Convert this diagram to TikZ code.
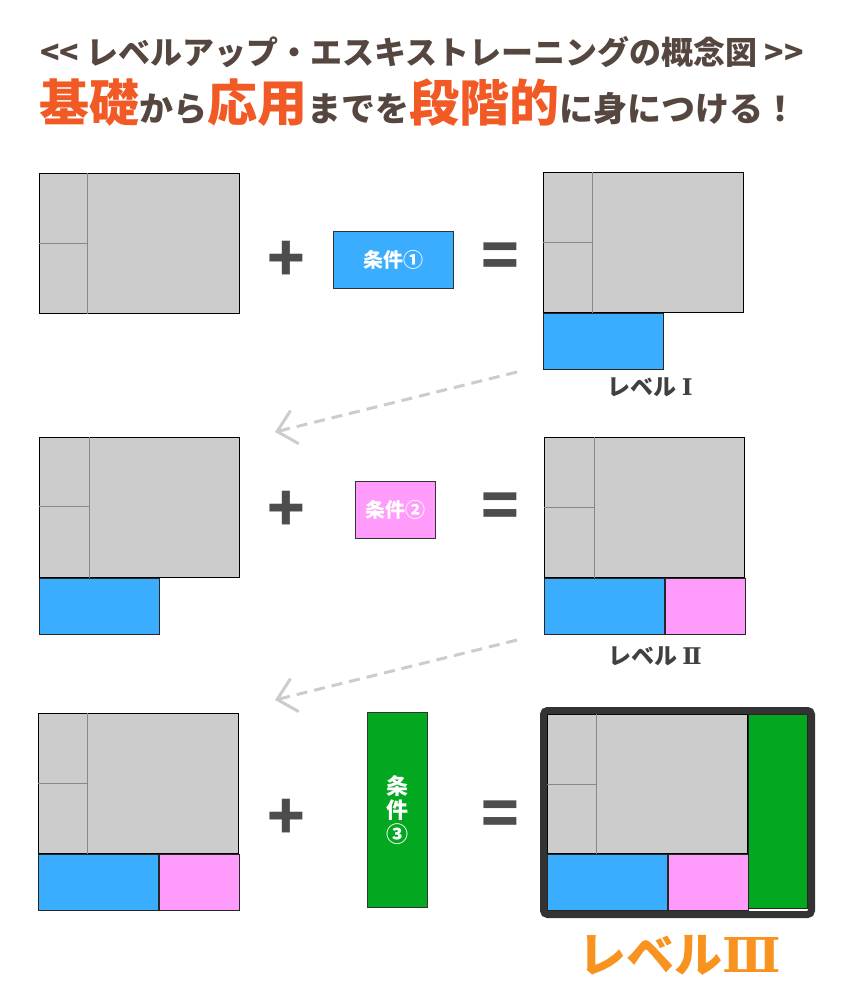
\documentclass[tikz,border=0pt]{standalone}
\usepackage{fontspec}
\setmainfont{Noto Sans CJK JP}
\newfontfamily\numfont{DejaVu Serif}
\usepackage{tikz}
\usetikzlibrary{positioning,fit,arrows.meta}

\definecolor{boardgray}{HTML}{CCCCCC}
\definecolor{divgray}{HTML}{888888}
\definecolor{condblue}{HTML}{3AADFF}
\definecolor{condpink}{HTML}{FF9BFA}
\definecolor{condgreen}{HTML}{02A81F}
\definecolor{titlebrown}{HTML}{55473F}
\definecolor{titleorange}{HTML}{F15A24}
\definecolor{levelorange}{HTML}{F7931E}
\definecolor{signgray}{HTML}{4D4D4D}

\begin{document}
\begin{tikzpicture}[x=1pt,y=-1pt,
		board/.style={draw=black,line width=1pt,fill=boardgray,inner sep=0pt,anchor=north west,minimum width=200pt,minimum height=140pt},
		divide/.style={draw=divgray,line width=1pt},
		piece/.style={draw=black!85,line width=1pt,inner sep=0pt,anchor=north west,minimum height=56pt},
		bluepiece/.style={piece,fill=condblue,minimum width=120pt},
		pinkpiece/.style={piece,fill=condpink,minimum width=80pt},
		cond/.style={draw=black!80,line width=1pt,inner sep=0pt,text=white,font=\bfseries\fontsize{20}{22}\selectfont},
		sign/.style={text=signgray,font=\bfseries\fontsize{62}{62}\selectfont},
		level/.style={text=black!75,font=\bfseries\fontsize{23}{23}\selectfont},
		flow/.style={draw=boardgray,line width=3pt,dash pattern=on 11pt off 7pt,-{Straight Barb[length=18pt,width=34pt]}}]
		\useasboundingbox (0,0) rectangle (840,995);

		% title
		\node[text=titlebrown,font=\bfseries\fontsize{32}{32}\selectfont] (t1) at (422,52) {{<}{<} レベルアップ・エスキストレーニングの概念図 {>}{>}};
		\node[text=titlebrown,font=\bfseries\fontsize{34}{34}\selectfont,anchor=base] (t2) at (418,122)
			{{\color{titleorange}\fontsize{50}{50}\selectfont 基礎}から{\color{titleorange}\fontsize{50}{50}\selectfont 応用}までを{\color{titleorange}\fontsize{50}{50}\selectfont 段階的}に身につける！};

		% row 1
		\node[board] (g1) at (39,173) {};
		\draw[divide] ([xshift=48pt]g1.north west) -- ([xshift=48pt]g1.south west);
		\draw[divide] ([yshift=-70pt]g1.north west) -- ([xshift=48pt,yshift=-70pt]g1.north west);
		\node[sign] (p1) at (286,261) {+};
		\node[cond,fill=condblue,minimum width=120pt,minimum height=57pt] (c1) at (393,260) {条件①};
		\node[sign] (e1) at (500,261) {=};
		\node[board] (r1) at (543,172) {};
		\draw[divide] ([xshift=49pt]r1.north west) -- ([xshift=49pt]r1.south west);
		\draw[divide] ([yshift=-70pt]r1.north west) -- ([xshift=49pt,yshift=-70pt]r1.north west);
		\node[bluepiece] (rb1) at (r1.south west) {};
		\node[level] (l1) at (650,387) {レベル {\numfont Ⅰ}};

		\coordinate (a1s) at (517,372);
		\coordinate (a1e) at (275,432);
		\draw[flow] (a1s) -- (a1e);

		% row 2
		\node[board] (g2) at (39,437) {};
		\draw[divide] ([xshift=50pt]g2.north west) -- ([xshift=50pt]g2.south west);
		\draw[divide] ([yshift=-69pt]g2.north west) -- ([xshift=50pt,yshift=-69pt]g2.north west);
		\node[bluepiece] (gb2) at (g2.south west) {};
		\node[sign] (p2) at (286,511) {+};
		\node[cond,fill=condpink,minimum width=80pt,minimum height=57pt] (c2) at (395,510) {条件②};
		\node[sign] (e2) at (500,511) {=};
		\node[board] (r2) at (544,437) {};
		\draw[divide] ([xshift=50pt]r2.north west) -- ([xshift=50pt]r2.south west);
		\draw[divide] ([yshift=-70pt]r2.north west) -- ([xshift=50pt,yshift=-70pt]r2.north west);
		\node[bluepiece] (rb2) at (r2.south west) {};
		\node[pinkpiece] (rp2) at (rb2.north east) {};
		\node[level] (l2) at (655,656) {レベル {\numfont Ⅱ}};

		\coordinate (a2s) at (517,640);
		\coordinate (a2e) at (275,700);
		\draw[flow] (a2s) -- (a2e);

		% row 3
		\node[board] (g3) at (38,713) {};
		\draw[divide] ([xshift=49pt]g3.north west) -- ([xshift=49pt]g3.south west);
		\draw[divide] ([yshift=-70pt]g3.north west) -- ([xshift=49pt,yshift=-70pt]g3.north west);
		\node[bluepiece] (gb3) at (g3.south west) {};
		\node[pinkpiece] (gp3) at (gb3.north east) {};
		\node[sign] (p3) at (286,819) {+};
		\node[cond,fill=condgreen,minimum width=60pt,minimum height=195pt,align=center,font=\bfseries\fontsize{22}{24}\selectfont] (c3) at (397,810) {条\\件\\③};
		\node[sign] (e3) at (500,819) {=};
		\node[board,minimum height=139pt] (r3) at (547,714) {};
		\draw[divide] ([xshift=49pt]r3.north west) -- ([xshift=49pt]r3.south west);
		\draw[divide] ([yshift=-70pt]r3.north west) -- ([xshift=49pt,yshift=-70pt]r3.north west);
		\node[bluepiece] (rb3) at (r3.south west) {};
		\node[pinkpiece] (rp3) at (rb3.north east) {};
		\node[piece,fill=condgreen,minimum width=59pt,minimum height=194pt] (rg3) at (r3.north east) {};
		\node[draw=black!80,line width=7pt,rounded corners=4pt,inner sep=3.5pt,fit=(r3)(rb3)(rg3)] (frame) {};
		\node[text=levelorange,font=\bfseries\fontsize{48}{48}\selectfont] (l3) at (680,955) {レベル{\numfont Ⅲ}};
	\end{tikzpicture}
\end{document}
